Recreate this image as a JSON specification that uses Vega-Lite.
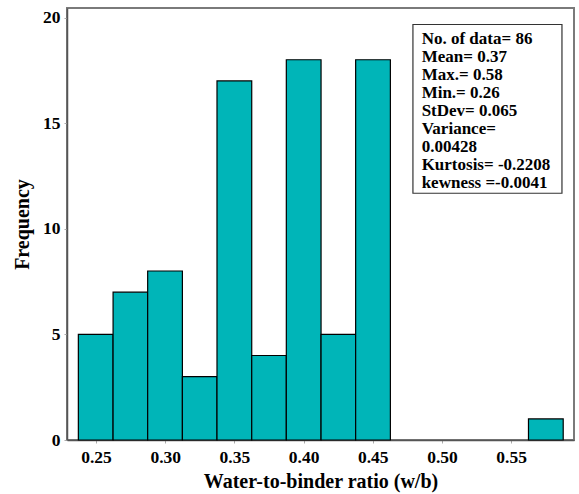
{
  "$schema": "https://vega.github.io/schema/vega-lite/v6.json",
  "autosize": "none",
  "width": 507,
  "height": 432,
  "padding": {"left": 67, "top": 8, "right": 5, "bottom": 54},
  "background": "white",
  "config": {
    "view": {"stroke": "#7a7a7a", "strokeWidth": 2},
    "font": "Liberation Serif, Times New Roman, DejaVu Serif, serif",
    "axis": {
      "labelFont": "Liberation Serif, Times New Roman, DejaVu Serif, serif",
      "labelFontWeight": "bold",
      "labelFontSize": 17.5,
      "labelColor": "black",
      "titleFont": "Liberation Serif, Times New Roman, DejaVu Serif, serif",
      "titleFontWeight": "bold",
      "titleFontSize": 20,
      "titleColor": "black",
      "grid": false,
      "domainColor": "#555555",
      "domainWidth": 1.5,
      "tickColor": "#aaaaaa",
      "tickSize": 3
    }
  },
  "datasets": {
    "bars": [
      {"lo": 0.2372, "hi": 0.2623, "count": 5},
      {"lo": 0.2623, "hi": 0.2873, "count": 7},
      {"lo": 0.2873, "hi": 0.3124, "count": 8},
      {"lo": 0.3124, "hi": 0.3374, "count": 3},
      {"lo": 0.3374, "hi": 0.3625, "count": 17},
      {"lo": 0.3625, "hi": 0.3875, "count": 4},
      {"lo": 0.3875, "hi": 0.4126, "count": 18},
      {"lo": 0.4126, "hi": 0.4376, "count": 5},
      {"lo": 0.4376, "hi": 0.4627, "count": 18},
      {"lo": 0.5625, "hi": 0.5876, "count": 1}
    ],
    "stats": [
      {"line": "No. of data= 86", "yv": 18.96},
      {"line": "Mean= 0.37", "yv": 18.11},
      {"line": "Max.= 0.58", "yv": 17.26},
      {"line": "Min.= 0.26", "yv": 16.41},
      {"line": "StDev= 0.065", "yv": 15.56},
      {"line": "Variance=", "yv": 14.71},
      {"line": "0.00428", "yv": 13.86},
      {"line": "Kurtosis= -0.2208", "yv": 13.02},
      {"line": "kewness =-0.0041", "yv": 12.17}
    ]
  },
  "layer": [
    {
      "data": {"name": "bars"},
      "mark": {"type": "rect", "fill": "#00B5B8", "stroke": "black", "strokeWidth": 1.2},
      "encoding": {
        "x": {
          "field": "lo", "type": "quantitative",
          "scale": {"domain": [0.229, 0.5954], "nice": false, "zero": false},
          "axis": {"values": [0.25, 0.3, 0.35, 0.4, 0.45, 0.5, 0.55], "format": ".2f", "labelPadding": 5, "titlePadding": 6},
          "title": "Water-to-binder ratio (w/b)"
        },
        "x2": {"field": "hi"},
        "y": {
          "field": "count", "type": "quantitative",
          "scale": {"domain": [0, 20.45], "nice": false},
          "axis": {"values": [0, 5, 10, 15, 20], "labelPadding": 4, "titlePadding": 10},
          "title": "Frequency"
        },
        "y2": {"datum": 0}
      }
    },
    {
      "data": {"values": [{"x0": 0.479, "x1": 0.5867, "y0": 11.68, "y1": 19.67}]},
      "mark": {"type": "rect", "fill": "white", "stroke": "#333333", "strokeWidth": 1.2},
      "encoding": {
        "x": {"field": "x0", "type": "quantitative"},
        "x2": {"field": "x1"},
        "y": {"field": "y0", "type": "quantitative"},
        "y2": {"field": "y1"}
      }
    },
    {
      "data": {"name": "stats"},
      "mark": {"type": "text", "align": "left", "baseline": "middle", "font": "Liberation Serif, Times New Roman, DejaVu Serif, serif", "fontWeight": "bold", "fontSize": 17, "color": "black"},
      "encoding": {
        "x": {"datum": 0.4853, "type": "quantitative"},
        "y": {"field": "yv", "type": "quantitative"},
        "text": {"field": "line"}
      }
    }
  ]
}
